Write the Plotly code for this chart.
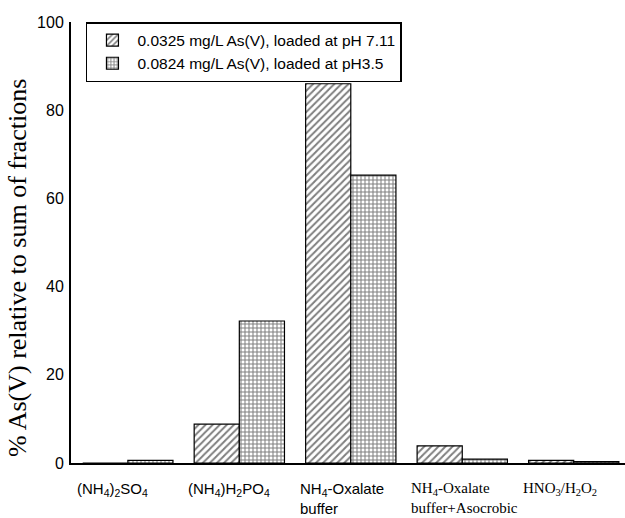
import plotly.graph_objects as go

categories = ["(NH4)2SO4", "(NH4)H2PO4", "NH4-Oxalate buffer", "NH4-Oxalate buffer+Asocrobic", "HNO3/H2O2"]
tick_labels = [
    "(NH<sub>4</sub>)<sub>2</sub>SO<sub>4</sub>",
    "(NH<sub>4</sub>)H<sub>2</sub>PO<sub>4</sub>",
    "NH<sub>4</sub>-Oxalate<br>buffer",
    "NH<sub>4</sub>-Oxalate<br>buffer+Asocrobic",
    "HNO<sub>3</sub>/H<sub>2</sub>O<sub>2</sub>",
]
label_fonts = ["Arial", "Arial", "Arial", "Times New Roman", "Times New Roman"]
series1_name = "0.0325 mg/L As(V), loaded at pH 7.11"
series1 = [0.0, 8.8, 86.0, 3.9, 0.6]
series2_name = "0.0824 mg/L As(V), loaded at pH3.5"
series2 = [0.6, 32.2, 65.3, 0.9, 0.3]
y_ticks = [0, 20, 40, 60, 80, 100]

fig = go.Figure()
fig.add_trace(go.Bar(
    x=categories, y=series1, name=series1_name,
    marker=dict(color="white", line=dict(color="black", width=1.2),
                pattern=dict(shape="/", fgcolor="black", bgcolor="white", size=5, solidity=0.4)),
))
fig.add_trace(go.Bar(
    x=categories, y=series2, name=series2_name,
    marker=dict(color="white", line=dict(color="black", width=1.2),
                pattern=dict(shape="+", fgcolor="black", bgcolor="white", size=4, solidity=0.45)),
))

annotations = []
for cat, lab, fnt in zip(categories, tick_labels, label_fonts):
    annotations.append(dict(
        x=cat, xref="x", y=0, yref="paper", yanchor="top", yshift=-15,
        xanchor="left", xshift=-53, align="left", showarrow=False,
        text=lab, font=dict(family=fnt, size=15, color="black"),
    ))
annotations.append(dict(
    x=0, xref="paper", xshift=-54, y=0.442, yref="paper", yanchor="middle",
    xanchor="center", textangle=-90, showarrow=False,
    text="% As(V) relative to sum of fractions",
    font=dict(family="Times New Roman", size=26, color="black"),
))

fig.update_layout(
    width=625, height=518,
    margin=dict(l=71, r=0, t=22, b=55),
    paper_bgcolor="white", plot_bgcolor="white",
    barmode="group", bargap=0.19, bargroupgap=0,
    showlegend=True,
    legend=dict(
        x=0.027, y=1.0, xanchor="left", yanchor="top",
        bordercolor="black", borderwidth=1.5, bgcolor="white",
        font=dict(family="Arial", size=15.5, color="black"),
        itemwidth=40, tracegroupgap=0,
    ),
    xaxis=dict(
        range=[-0.51, 4.46], showticklabels=False, ticks="",
        showline=True, linecolor="black", linewidth=2, showgrid=False, zeroline=False,
    ),
    yaxis=dict(
        range=[0, 100], tickvals=y_ticks, ticks="",
        showline=True, linecolor="black", linewidth=2, showgrid=False, zeroline=False,
        tickfont=dict(family="Arial", size=16, color="black"), ticklabelstandoff=2,
    ),
    annotations=annotations,
)

fig.write_html("out.html")
